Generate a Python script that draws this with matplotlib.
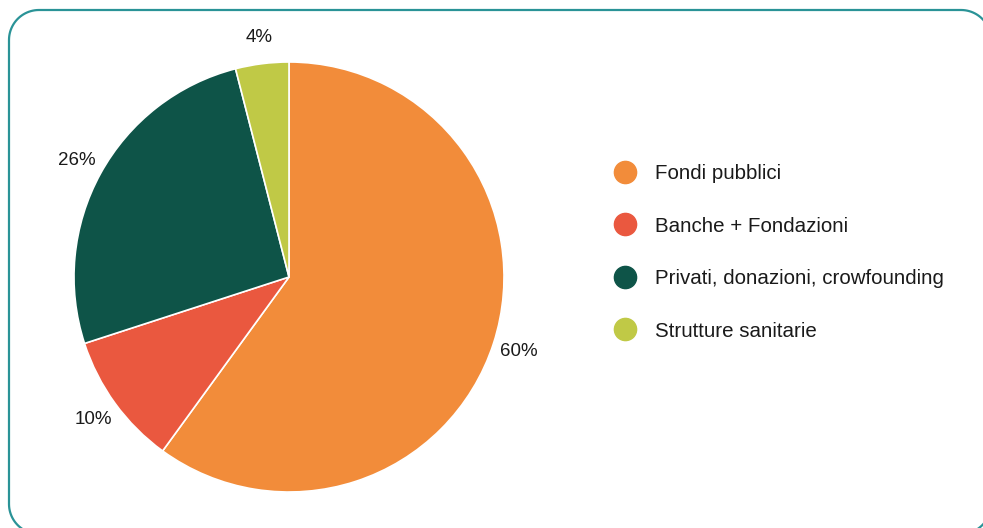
import numpy as np
import matplotlib
matplotlib.use("Agg")
import matplotlib.pyplot as plt
from matplotlib.patches import PathPatch
from matplotlib.path import Path
from matplotlib.lines import Line2D
from matplotlib.transforms import IdentityTransform

categories = ["Fondi pubblici", "Banche + Fondazioni",
              "Privati, donazioni, crowfounding", "Strutture sanitarie"]
values = [60, 10, 26, 4]
colors = ["#F28C3A", "#EA583F", "#0E5448", "#C0C946"]

plt.rcParams["font.family"] = ["Liberation Sans", "DejaVu Sans"]

W, H, DPI = 983, 528, 100
fig = plt.figure(figsize=(W / DPI, H / DPI), dpi=DPI)
fig.patch.set_facecolor("white")


def rounded_rect(x0, y0, x1, y1, rad, n=24):
    """Closed path of a rectangle with circular corners, in pixels."""
    pts = []
    corners = [(x1 - rad, y1 - rad, 0), (x0 + rad, y1 - rad, 90),
               (x0 + rad, y0 + rad, 180), (x1 - rad, y0 + rad, 270)]
    for ccx, ccy, a0 in corners:
        t = np.radians(np.linspace(a0, a0 + 90, n))
        pts.extend(zip(ccx + rad * np.cos(t), ccy + rad * np.sin(t)))
    pts.append(pts[0])
    return Path(pts, closed=True)


# card frame with rounded corners (display pixels, origin bottom-left)
frame = PathPatch(rounded_rect(9, -6, 991, 518, 30), transform=IdentityTransform(),
                  facecolor="none", edgecolor="#2A9397", linewidth=1.6)
fig.patches.append(frame)

# pie: centre (289, 277) px from top-left, radius 215 px
cx, cy, r = 289, 277, 215
half = 230
ax = fig.add_axes([(cx - half) / W, (H - cy - half) / H, 2 * half / W, 2 * half / H])

labels = [f"{v}%" for v in values]
wedges, texts = ax.pie(values, colors=colors, startangle=90, counterclock=False,
                       radius=1.0, labels=labels, labeldistance=1.125,
                       wedgeprops=dict(edgecolor="white", linewidth=1.2),
                       textprops=dict(fontsize=13.5, color="#1a1a1a"))
for t in texts:
    t.set_horizontalalignment("center")
    t.set_verticalalignment("center")

lim = half / r
ax.set_xlim(-lim, lim)
ax.set_ylim(-lim, lim)
ax.set_aspect("equal")
ax.axis("off")

handles = [Line2D([], [], marker="o", linestyle="none", markersize=16,
                  markerfacecolor=c, markeredgecolor=c) for c in colors]
leg = fig.legend(handles, categories, loc="upper left",
                 bbox_to_anchor=(615 / W, 1 - 164 / H),
                 frameon=False, fontsize=14.8, labelspacing=1.63,
                 handletextpad=0.95, handlelength=1.0, borderaxespad=0,
                 borderpad=0)
for t in leg.get_texts():
    t.set_color("#1a1a1a")

fig.savefig("out.png", dpi=DPI)
